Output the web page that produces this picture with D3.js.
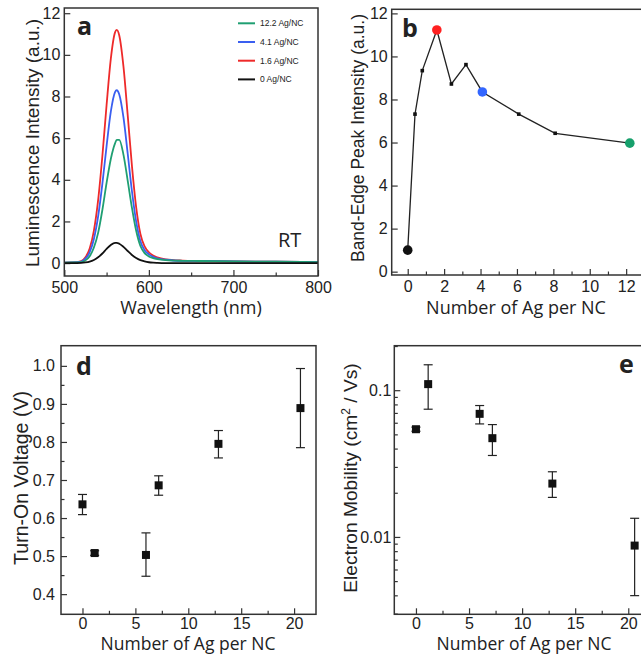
<!DOCTYPE html>
<html>
<head>
<meta charset="utf-8">
<script src="https://cdn.jsdelivr.net/npm/d3@7"></script>
<style>
    body { margin: 0; background: #fff; }
    svg text { fill: #222; }
    .tick text { font-family: "Liberation Sans", Arial, sans-serif; font-size: 16px; fill: #222; }
    .tick line { stroke: #333; stroke-width: 1.2; }
    .frame { fill: none; stroke: #333; stroke-width: 1.5; }
    .xtitle { font-family: "Open Sans", sans-serif; font-size: 18px; }
    .ytitle { font-family: "Liberation Sans", Arial, sans-serif; }
    .letter { font-family: "Open Sans", sans-serif; font-weight: bold; font-size: 25px; }
</style>
</head>
<body>
<div id="chart"></div>
<script>
// panel a: luminescence spectra
const wavelengths = [500, 510, 520, 525, 530, 535, 540, 545, 550, 555, 560, 562, 565, 570, 575, 580, 585, 590, 595, 600, 605, 610, 620, 640, 660, 700, 750, 800];
const lum16 = [0.02, 0.03, 0.10, 0.28, 0.70, 1.56, 3.02, 5.13, 7.59, 9.81, 11.08, 11.2, 10.93, 9.42, 7.09, 4.66, 2.68, 1.40, 0.80, 0.52, 0.36, 0.27, 0.18, 0.12, 0.10, 0.08, 0.07, 0.05];
const lum41 = [0.02, 0.03, 0.07, 0.21, 0.52, 1.16, 2.24, 3.80, 5.62, 7.27, 8.21, 8.3, 8.10, 6.98, 5.25, 3.45, 1.99, 1.05, 0.62, 0.42, 0.30, 0.23, 0.16, 0.11, 0.10, 0.08, 0.07, 0.05];
const lum122 = [0.02, 0.03, 0.05, 0.13, 0.33, 0.75, 1.45, 2.55, 3.85, 5.0, 5.75, 5.92, 5.92, 5.2, 3.95, 2.65, 1.55, 0.82, 0.48, 0.32, 0.24, 0.19, 0.14, 0.11, 0.10, 0.08, 0.07, 0.05];
const lum0 = [0.0, 0.0, 0.01, 0.03, 0.07, 0.15, 0.28, 0.46, 0.68, 0.87, 0.97, 0.97, 0.93, 0.78, 0.58, 0.39, 0.24, 0.14, 0.08, 0.04, 0.02, 0.01, 0.0, 0.0, 0.0, 0.0, 0.0, 0.0];
const legendLabels = ["12.2 Ag/NC", "4.1 Ag/NC", "1.6 Ag/NC", "0 Ag/NC"];

// panel b: band-edge peak intensity
const agB = [0, 0.4, 0.8, 1.6, 2.4, 3.2, 4.1, 6.1, 8.1, 12.2];
const peakB = [1.0, 7.32, 9.34, 11.23, 8.72, 9.62, 8.35, 7.32, 6.43, 5.97];

// panels d, e: devices
const agDev = [0, 1.15, 6.0, 7.2, 12.85, 20.6];
const turnOn = [0.636, 0.508, 0.503, 0.686, 0.795, 0.889];
const turnOnLo = [0.609, 0.502, 0.447, 0.660, 0.758, 0.785];
const turnOnHi = [0.662, 0.514, 0.561, 0.711, 0.830, 0.993];
const mobility = [0.0542, 0.110, 0.069, 0.0471, 0.0231, 0.00873];
const mobLo = [0.0525, 0.0742, 0.0589, 0.0359, 0.0186, 0.00398];
const mobHi = [0.056, 0.149, 0.0786, 0.0583, 0.0278, 0.0134];

const colors = { red: "#ee2a2a", blue: "#3a5ff0", green: "#1f9f72", black: "#111" };

const svg = d3.select("#chart").append("svg")
    .attr("width", 641)
    .attr("height", 656);

function axes(xs, ys, bottom, left, o) {
    const gx = svg.append("g").attr("transform", `translate(0,${bottom})`);
    gx.call(d3.axisBottom(xs).tickValues(o.xMajor).tickSize(-6).tickPadding(o.xPad).tickFormat(o.xFmt || null));
    if (o.xMinor) gx.append("g").call(d3.axisBottom(xs).tickValues(o.xMinor).tickSize(-3.5).tickFormat(""));
    const gy = svg.append("g").attr("transform", `translate(${left},0)`);
    gy.call(d3.axisLeft(ys).tickValues(o.yMajor).tickSize(-6).tickPadding(o.yPad).tickFormat(o.yFmt || null));
    if (o.yMinor) gy.append("g").call(d3.axisLeft(ys).tickValues(o.yMinor).tickSize(-3.5).tickFormat(""));
    svg.selectAll(".domain").remove();
}

// ---------- panel a ----------
const xA = d3.scaleLinear().domain([500, 800]).range([64.3, 318]);
const yA = d3.scaleLinear().domain([-0.62, 12.25]).range([276, 8]);

axes(xA, yA, 276, 64.3, {
    xMajor: [500, 600, 700, 800], xMinor: [550, 650, 750], xPad: 6,
    yMajor: d3.range(0, 13, 2), yPad: 4
});

const lineA = d3.line()
    .x((d, i) => xA(wavelengths[i]))
    .y(d => yA(d))
    .curve(d3.curveMonotoneX);

[[lum16, colors.red], [lum41, colors.blue], [lum122, colors.green], [lum0, colors.black]].forEach(([s, c]) => {
    svg.append("path")
        .attr("d", lineA(s))
        .attr("fill", "none")
        .attr("stroke", c)
        .attr("stroke-width", 1.8);
});

const legendColors = [colors.green, colors.blue, colors.red, colors.black];
legendLabels.forEach((t, i) => {
    const ly = 23.3 + i * 18.7;
    svg.append("line").attr("x1", 238).attr("x2", 255).attr("y1", ly).attr("y2", ly)
        .attr("stroke", legendColors[i]).attr("stroke-width", 2);
    svg.append("text").attr("x", 260).attr("y", ly).attr("dy", "0.35em")
        .style("font-family", "Liberation Sans, Arial").style("font-size", "8.5px")
        .text(t);
});

svg.append("rect").attr("class", "frame").attr("x", 64.3).attr("y", 8).attr("width", 253.7).attr("height", 268);
svg.append("text").attr("class", "letter").attr("x", 77).attr("y", 35).text("a");
svg.append("text").attr("x", 278).attr("y", 247).style("font-family", "Open Sans").style("font-size", "20px").text("RT");
svg.append("text").attr("class", "xtitle").attr("x", 191).attr("y", 314).attr("text-anchor", "middle").text("Wavelength (nm)");
svg.append("text").attr("class", "ytitle").attr("transform", "translate(39,143) rotate(-90)")
    .attr("text-anchor", "middle").style("font-size", "19px").text("Luminescence Intensity (a.u.)");

// ---------- panel b ----------
const xB = d3.scaleLinear().domain([-0.88, 13.2]).range([391.7, 648]);
const yB = d3.scaleLinear().domain([-0.155, 12.19]).range([275, 9.3]);

axes(xB, yB, 275, 391.7, {
    xMajor: d3.range(0, 13, 2), xMinor: d3.range(1, 13, 2), xPad: 6,
    yMajor: d3.range(0, 13, 2), yPad: 4
});

svg.append("path")
    .attr("d", d3.line().x((d, i) => xB(agB[i])).y(d => yB(d))(peakB))
    .attr("fill", "none").attr("stroke", "#222").attr("stroke-width", 1.3);

const bigDots = { 0: colors.black, 1.6: "#ff2020", 4.1: "#3366ff", 12.2: "#17a06c" };
svg.selectAll(".sq-b").data(agB.filter(a => !(a in bigDots)))
    .enter().append("rect")
    .attr("x", d => xB(d) - 1.8).attr("y", d => yB(peakB[agB.indexOf(d)]) - 1.8)
    .attr("width", 3.6).attr("height", 3.6).attr("fill", "#111");
svg.selectAll(".dot-b").data(agB.filter(a => a in bigDots))
    .enter().append("circle")
    .attr("cx", d => xB(d)).attr("cy", d => yB(peakB[agB.indexOf(d)]))
    .attr("r", 4.8).attr("fill", d => bigDots[d]);

svg.append("rect").attr("class", "frame").attr("x", 391.7).attr("y", 9.3).attr("width", 300).attr("height", 265.7);
svg.append("text").attr("class", "letter").attr("x", 402).attr("y", 37).text("b");
svg.append("text").attr("class", "xtitle").attr("x", 516).attr("y", 314).attr("text-anchor", "middle").text("Number of Ag per NC");
svg.append("text").attr("class", "ytitle").attr("transform", "translate(364,138) rotate(-90)")
    .attr("text-anchor", "middle").style("font-size", "17.5px").text("Band-Edge Peak Intensity (a.u.)");

// ---------- panel d ----------
const xD = d3.scaleLinear().domain([-2.03, 22.07]).range([61, 316]);
const yD = d3.scaleLinear().domain([0.347, 1.053]).range([614.3, 345.7]);

axes(xD, yD, 614.3, 61, {
    xMajor: [0, 5, 10, 15, 20], xMinor: [2.5, 7.5, 12.5, 17.5], xPad: 3,
    yMajor: [0.4, 0.5, 0.6, 0.7, 0.8, 0.9, 1.0], yMinor: [0.45, 0.55, 0.65, 0.75, 0.85, 0.95], yPad: 6,
    yFmt: d3.format(".1f")
});

agDev.forEach((a, i) => {
    const cx = xD(a);
    svg.append("line").attr("x1", cx).attr("x2", cx).attr("y1", yD(turnOnLo[i])).attr("y2", yD(turnOnHi[i]))
        .attr("stroke", "#222").attr("stroke-width", 1.2);
    [turnOnLo[i], turnOnHi[i]].forEach(v => {
        svg.append("line").attr("x1", cx - 4.5).attr("x2", cx + 4.5).attr("y1", yD(v)).attr("y2", yD(v))
            .attr("stroke", "#222").attr("stroke-width", 1.2);
    });
    svg.append("rect").attr("x", cx - 4).attr("y", yD(turnOn[i]) - 4).attr("width", 8).attr("height", 8).attr("fill", "#111");
});

svg.append("rect").attr("class", "frame").attr("x", 61).attr("y", 345.7).attr("width", 255).attr("height", 268.6);
svg.append("text").attr("class", "letter").attr("x", 76).attr("y", 375).text("d");
svg.append("text").attr("class", "xtitle").attr("x", 188).attr("y", 650).attr("text-anchor", "middle")
    .style("font-size", "17.5px").text("Number of Ag per NC");
svg.append("text").attr("class", "ytitle").attr("transform", "translate(27.5,478) rotate(-90)")
    .attr("text-anchor", "middle").style("font-size", "19.5px").text("Turn-On Voltage (V)");

// ---------- panel e ----------
const xE = d3.scaleLinear().domain([-2.04, 22]).range([394.3, 649.5]);
const yE = d3.scaleLog().domain([0.00297, 0.201]).range([614.3, 345.7]);

axes(xE, yE, 614.3, 394.3, {
    xMajor: [0, 5, 10, 15, 20], xMinor: [2.5, 7.5, 12.5, 17.5], xPad: 3,
    yMajor: [0.01, 0.1], yPad: 3, yFmt: d => (d === 0.1 ? "0.1" : "0.01"),
    yMinor: [0.003, 0.004, 0.005, 0.006, 0.007, 0.008, 0.009, 0.02, 0.03, 0.04, 0.05, 0.06, 0.07, 0.08, 0.09, 0.2]
});

agDev.forEach((a, i) => {
    const cx = xE(a);
    svg.append("line").attr("x1", cx).attr("x2", cx).attr("y1", yE(mobLo[i])).attr("y2", yE(mobHi[i]))
        .attr("stroke", "#222").attr("stroke-width", 1.2);
    [mobLo[i], mobHi[i]].forEach(v => {
        svg.append("line").attr("x1", cx - 4.5).attr("x2", cx + 4.5).attr("y1", yE(v)).attr("y2", yE(v))
            .attr("stroke", "#222").attr("stroke-width", 1.2);
    });
    svg.append("rect").attr("x", cx - 4).attr("y", yE(mobility[i]) - 4).attr("width", 8).attr("height", 8).attr("fill", "#111");
});

svg.append("rect").attr("class", "frame").attr("x", 394.3).attr("y", 345.7).attr("width", 300).attr("height", 268.6);
svg.append("text").attr("class", "letter").attr("x", 619).attr("y", 373).text("e");
svg.append("text").attr("class", "xtitle").attr("x", 524).attr("y", 650).attr("text-anchor", "middle")
    .style("font-size", "17.5px").text("Number of Ag per NC");
const eTitle = svg.append("text").attr("class", "ytitle").attr("transform", "translate(357,478) rotate(-90)")
    .attr("text-anchor", "middle").style("font-size", "19.2px");
eTitle.append("tspan").text("Electron Mobility (cm");
eTitle.append("tspan").attr("baseline-shift", "super").style("font-size", "12px").text("2");
eTitle.append("tspan").text(" / Vs)");
</script>
</body>
</html>
